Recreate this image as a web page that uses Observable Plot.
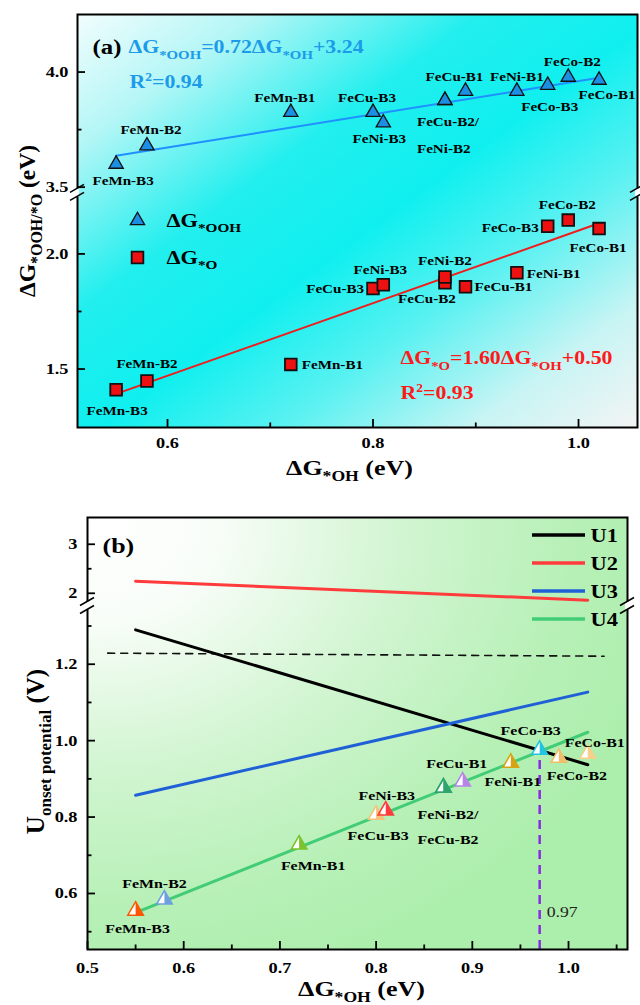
<!DOCTYPE html>
<html>
<head>
<meta charset="utf-8">
<script src="https://cdn.jsdelivr.net/npm/d3@7"></script>
<script src="https://cdn.jsdelivr.net/npm/@observablehq/plot@0.6"></script>
<style>
html,body{margin:0;padding:0;background:#fff;}
#chart svg{display:block;}
</style>
</head>
<body>
<div id="chart"></div>
<script>
// ---------------- data ----------------
const sites   = ["FeMn-B3","FeMn-B2","FeMn-B1","FeCu-B3","FeNi-B3","FeCu-B2","FeNi-B2","FeCu-B1","FeNi-B1","FeCo-B3","FeCo-B2","FeCo-B1"];
const dG_OH   = [0.55, 0.58, 0.72, 0.80, 0.81, 0.87, 0.87, 0.89, 0.94, 0.97, 0.99, 1.02];
const dG_OOH  = [3.600, 3.680, 3.825, 3.825, 3.780, 3.877, 3.877, 3.917, 3.917, 3.943, 3.978, 3.965];
const dG_O    = [1.410, 1.448, 1.520, 1.850, 1.866, 1.875, 1.900, 1.857, 1.918, 2.120, 2.147, 2.110];
const U_onset = [0.555, 0.584, 0.728, 0.806, 0.817, 0.877, 0.877, 0.893, 0.942, 0.976, 0.955, 0.966];

// fitted lines as drawn
const fitX   = [0.55, 1.02];
const fitOOH = [3.636, 3.975];
const fitO   = [1.392, 2.133];
const eqOOH  = "ΔG_{*OOH}=0.72ΔG_{*OH}+3.24";
const r2OOH  = "R^{2}=0.94";
const eqO    = "ΔG_{*O}=1.60ΔG_{*OH}+0.50";
const r2O    = "R^{2}=0.93";

// limiting potential lines (panel b)
const uSeries = ["U1","U2","U3","U4"];
const uX = [0.55, 1.02];
const U1 = [1.290, 0.937];
const U2 = [2.245, 1.860];
const U3 = [0.857, 1.127];
const U4 = [0.550, 1.022];
const limitX = [0.521, 1.037];
const limitU = [1.229, 1.221];
const peakX = [0.97];
const peakU = [0.976];
const peakText = ["0.97"];

// ticks
const tickAx = [0.6, 0.8, 1.0];          const tickAxLabels = ["0.6","0.8","1.0"];  const minorAx = [0.7, 0.9];
const tickAy = [1.5, 2.0, 3.5, 4.0];     const tickAyLabels = ["1.5","2.0","3.5","4.0"]; const minorAy = [1.75, 3.75];
const tickBx = [0.5, 0.6, 0.7, 0.8, 0.9, 1.0]; const tickBxLabels = ["0.5","0.6","0.7","0.8","0.9","1.0"];
const minorBx = [0.55, 0.65, 0.75, 0.85, 0.95, 1.05];
const tickBy = [0.6, 0.8, 1.0, 1.2, 2, 3]; const tickByLabels = ["0.6","0.8","1.0","1.2","2","3"];
const minorBy = [0.5, 0.7, 0.9, 1.1, 1.3, 2.5];

// ---------------- styles / layout ----------------
const SERIF = "'Liberation Serif','Times New Roman',serif";
const C = {tri:"#1b8fe3", triLine:"#1e90ff", blueText:"#1c9be9", sq:"#ee1111", redLine:"#f01c1c", redText:"#ff1a1a"};
const uColors = ["#000000","#ff3b3b","#1f60d6","#42cc76"];
const siteColors = ["#ff5500","#6f9fe0","#7cc22a","#f5c27a","#ff3b3b","#2fae72","#2fa56e","#b784e6","#d4a412","#22c4e0","#eebf6a","#f6cf8a"];

// label offsets [dx, dy, anchor, text, lineHeight]
const layoutOOH = {
  "FeMn-B3":[7,17], "FeMn-B2":[4,-16], "FeMn-B1":[-6,-14], "FeCu-B3":[-6,-14], "FeNi-B3":[-4,16],
  "FeCu-B2":[-28,30.5,"start","FeCu-B2/\nFeNi-B2",2.1], "FeCu-B1":[-11,-14], "FeNi-B1":[0,-14],
  "FeCo-B3":[2,22], "FeCo-B2":[4,-15], "FeCo-B1":[8,15]
};
const layoutO = {
  "FeMn-B3":[1,21], "FeMn-B2":[0,-17], "FeMn-B1":[11,0,"start"], "FeCu-B3":[-9,0,"end"],
  "FeNi-B3":[-3,-15], "FeCu-B2":[-18,16], "FeNi-B2":[0,-16], "FeCu-B1":[9,0,"start"],
  "FeNi-B1":[10,1,"start"], "FeCo-B3":[-9,2,"end"], "FeCo-B2":[-1,-15], "FeCo-B1":[-1,19]
};
const layoutU = {
  "FeMn-B3":[2,18], "FeMn-B2":[-10,-16], "FeMn-B1":[14,21], "FeCu-B3":[2,21], "FeNi-B3":[1,-15],
  "FeNi-B2":[-26,35.5,"start","FeNi-B2/\nFeCu-B2",1.85], "FeCu-B1":[-6,-18], "FeNi-B1":[2,19],
  "FeCo-B3":[-9,-19], "FeCo-B2":[18,18], "FeCo-B1":[7,-11]
};

// broken-axis transforms
function tA(v){ return v > 3 ? v - 3.49 + 2.28 : v; }
function tB(v){ return v > 1.6 ? 1.36 + (v - 1.8) * 0.1283 : v; }

const idx = d3.range(sites.length);
const MID = {lineAnchor: "middle"};

function labelMarks(layout, yOf, fs) {
  return sites.map((name, i) => {
    const L = layout[name]; if (!L) return null;
    const [dx, dy, anchor = "middle", text = name, lh = 1] = L;
    return Plot.text([i], {x: j => dG_OH[j], y: yOf, text: () => text, dx, dy, ...MID,
      textAnchor: anchor, lineHeight: lh, fontSize: fs, fontWeight: "bold", fill: "black"});
  }).filter(Boolean);
}
function note(frameAnchor, dx, dy, text, opts) {
  return Plot.text([0], {frameAnchor, dx, dy, text: () => text, textAnchor: "start", lineAnchor: "middle", fontWeight: "bold", fill: "black", ...opts});
}

// ---------------- panel (a) ----------------
const A = {W:640, H:500, l:77, r:3, t:14, b:73};
A.fw = A.W - A.l - A.r; A.fh = A.H - A.t - A.b;
const xDomA = [0.5124, 1.0574], yDomA = [1.246, 3.04];

const svgA = Plot.plot({
  width: A.W, height: A.H, marginLeft: A.l, marginRight: A.r, marginTop: A.t, marginBottom: A.b,
  x: {domain: xDomA, label: null, axis: null},
  y: {domain: yDomA, label: null, axis: null},
  style: {background: "transparent", fontFamily: SERIF, fontSize: "15px", overflow: "visible"},
  marks: [
    Plot.frame({fill: "url(#gradA)"}),
    Plot.line(fitX, {x: d => d, y: (d, i) => tA(fitOOH[i]), stroke: C.triLine, strokeWidth: 2}),
    Plot.line(fitX, {x: d => d, y: (d, i) => fitO[i], stroke: C.redLine, strokeWidth: 2}),
    Plot.dot(idx, {x: i => dG_OH[i], y: i => tA(dG_OOH[i]), symbol: "triangle", r: 5.3, fill: C.tri, stroke: "#111", strokeWidth: 1.3}),
    Plot.dot(idx, {x: i => dG_OH[i], y: i => dG_O[i], symbol: "square", r: 6.6, fill: C.sq, stroke: "#111", strokeWidth: 1.8}),
    ...labelMarks(layoutOOH, i => tA(dG_OOH[i]), 12.8),
    ...labelMarks(layoutO, i => dG_O[i], 12.8),
    // legend
    Plot.dot([0], {frameAnchor: "top-left", dx: 60, dy: 206, symbol: "triangle", r: 5.3, fill: C.tri, stroke: "#111", strokeWidth: 1.3}),
    Plot.dot([0], {frameAnchor: "top-left", dx: 60, dy: 243, symbol: "square", r: 6.6, fill: C.sq, stroke: "#111", strokeWidth: 1.8}),
    note("top-left", 89, 206, "ΔG_{*OOH}", {fontSize: 19}),
    note("top-left", 89, 243, "ΔG_{*O}", {fontSize: 19}),
    // annotations
    note("top-left", 15, 33, "(a)", {fontSize: 21}),
    note("top-left", 51, 33, eqOOH, {fontSize: 18.5, fill: C.blueText}),
    note("top-left", 52, 68, r2OOH, {fontSize: 18.5, fill: C.blueText}),
    note("top-left", 323, 344, eqO, {fontSize: 18.5, fill: C.redText}),
    note("top-left", 323, 379, r2O, {fontSize: 18.5, fill: C.redText}),
    Plot.frame({stroke: "black", strokeWidth: 2}),
    // ticks (inward)
    Plot.tickX(tickAx, {x: d => d, insetTop: A.fh - 8, stroke: "black", strokeWidth: 1.8}),
    Plot.tickX(minorAx, {x: d => d, insetTop: A.fh - 4.5, stroke: "black", strokeWidth: 1.8}),
    Plot.tickY(tickAy, {y: d => tA(d), insetRight: A.fw - 8, stroke: "black", strokeWidth: 1.8}),
    Plot.tickY(minorAy, {y: d => tA(d), insetRight: A.fw - 4.5, stroke: "black", strokeWidth: 1.8}),
    Plot.text(tickAx, {x: d => d, text: (d, i) => tickAxLabels[i], frameAnchor: "bottom", dy: 16, ...MID, fontSize: 15.5, fontWeight: "bold", fill: "black"}),
    Plot.text(tickAy, {y: d => tA(d), text: (d, i) => tickAyLabels[i], frameAnchor: "left", dx: -9, textAnchor: "end", ...MID, fontSize: 15.5, fontWeight: "bold", fill: "black"}),
    // titles
    Plot.text([0], {frameAnchor: "bottom", dx: -8, dy: 40, text: () => "ΔG_{*OH} (eV)", textAnchor: "middle", ...MID, fontSize: 22, fontWeight: "bold", fill: "black"}),
    Plot.text([0], {frameAnchor: "left", dx: -50, dy: 0, rotate: -90, text: () => "ΔG_{*OOH/*O} (eV)", textAnchor: "middle", ...MID, fontSize: 23.5, fontWeight: "bold", fill: "black"})
  ]
});

// ---------------- panel (b) ----------------
const B = {W:640, H:505, l:87, r:13, t:17, b:56};
B.fw = B.W - B.l - B.r; B.fh = B.H - B.t - B.b;
const xDomB = [0.5, 1.0613], yDomB = [0.4534, 1.584];
const uArrays = [U1, U2, U3, U4];
const sqrt3 = Math.sqrt(3);
const halfTri = {draw(ctx, size) { const y = -Math.sqrt(size / (sqrt3 * 3)); ctx.moveTo(0, 2 * y); ctx.lineTo(-sqrt3 * y, -y); ctx.lineTo(0, -y); ctx.closePath(); }};
const xU = i => dG_OH[i], yU = i => U_onset[i];

const svgB = Plot.plot({
  width: B.W, height: B.H, marginLeft: B.l, marginRight: B.r, marginTop: B.t, marginBottom: B.b,
  x: {domain: xDomB, label: null, axis: null},
  y: {domain: yDomB, label: null, axis: null},
  color: {type: "identity"},
  style: {background: "transparent", fontFamily: SERIF, fontSize: "15px", overflow: "visible"},
  marks: [
    Plot.frame({fill: "url(#gradB)"}),
    Plot.line(limitX, {x: d => d, y: (d, i) => limitU[i], stroke: "#111", strokeWidth: 1.6, strokeDasharray: "7,6"}),
    Plot.ruleX(peakX, {x: d => d, y1: yDomB[0], y2: (d, i) => peakU[i], stroke: "#8a2be2", strokeWidth: 2.5, strokeDasharray: "9,6"}),
    Plot.text(peakX, {x: d => d, text: (d, i) => peakText[i], frameAnchor: "bottom", dx: 7, dy: -37, textAnchor: "start", ...MID, fontSize: 15, fontWeight: "normal", fill: "#222"}),
    ...uArrays.map((arr, k) => Plot.line(uX, {x: d => d, y: (d, i) => tB(arr[i]), stroke: uColors[k], strokeWidth: 3})),
    Plot.dot(idx, {x: xU, y: yU, symbol: "triangle", r: 5.8, fill: "white", stroke: "none"}),
    Plot.dot(idx, {x: xU, y: yU, symbol: halfTri, r: 5.8, fill: i => siteColors[i], stroke: "none"}),
    Plot.dot(idx, {x: xU, y: yU, symbol: "triangle", r: 5.8, fill: "none", stroke: i => siteColors[i], strokeWidth: 1.5}),
    ...labelMarks(layoutU, yU, 13.5),
    note("top-left", 15, 28, "(b)", {fontSize: 22}),
    ...uSeries.map((s, k) => note("top-right", -37, 18 + 28 * k, s, {fontSize: 19})),
    Plot.frame({stroke: "black", strokeWidth: 2}),
    Plot.tickX(tickBx, {x: d => d, insetTop: B.fh - 8, stroke: "black", strokeWidth: 1.8}),
    Plot.tickX(minorBx, {x: d => d, insetTop: B.fh - 4.5, stroke: "black", strokeWidth: 1.8}),
    Plot.tickY(tickBy, {y: d => tB(d), insetRight: B.fw - 8, stroke: "black", strokeWidth: 1.8}),
    Plot.tickY(minorBy, {y: d => tB(d), insetRight: B.fw - 4.5, stroke: "black", strokeWidth: 1.8}),
    Plot.text(tickBx, {x: d => d, text: (d, i) => tickBxLabels[i], frameAnchor: "bottom", dy: 19, ...MID, fontSize: 15.5, fontWeight: "bold", fill: "black"}),
    Plot.text(tickBy, {y: d => tB(d), text: (d, i) => tickByLabels[i], frameAnchor: "left", dx: -10, textAnchor: "end", ...MID, fontSize: 15.5, fontWeight: "bold", fill: "black"}),
    Plot.text([0], {frameAnchor: "bottom", dx: 4, dy: 39, text: () => "ΔG_{*OH} (eV)", textAnchor: "middle", ...MID, fontSize: 22, fontWeight: "bold", fill: "black"}),
    Plot.text([0], {frameAnchor: "left", dx: -52, dy: 18, rotate: -90, text: () => "U_{onset potential} (V)", textAnchor: "middle", ...MID, fontSize: 25, fontWeight: "bold", fill: "black"})
  ]
});

const root = document.getElementById("chart");
root.appendChild(svgA);
root.appendChild(svgB);

// ---------------- post-processing ----------------
const NS = "http://www.w3.org/2000/svg";
function addGradient(svg, id, v, stops) {
  const defs = d3.select(svg).insert("defs", ":first-child");
  const g = defs.append(v.radial ? "radialGradient" : "linearGradient").attr("id", id);
  for (const k in v) if (k !== "radial") g.attr(k, v[k]);
  stops.forEach(([o, c]) => g.append("stop").attr("offset", o).attr("stop-color", c));
}
addGradient(svgA, "gradA", {x1: 0, y1: 0, x2: 1, y2: 1}, [
  [0, "#f2fdfd"], [0.16, "#b4f6f6"], [0.36, "#22eeee"], [0.52, "#10efef"], [0.68, "#5af1f1"], [0.85, "#c8f4f4"], [1, "#f3f4f4"]
]);
addGradient(svgB, "gradB", {radial: true, cx: 0.02, cy: 0.02, r: 1.1, fx: 0.02, fy: 0.02}, [
  [0, "#ffffff"], [0.2, "#f8fdf8"], [0.5, "#d2f5d2"], [0.8, "#b7f0b7"], [1, "#aceeac"]
]);

function drawBreak(svg, P, yLow, yHigh) {
  const sy = svg.scale("y");
  const yb = (sy.apply(yLow) + sy.apply(yHigh)) / 2;
  const g = d3.select(svg).append("g");
  for (const x of [P.l, P.W - P.r]) {
    g.append("rect").attr("x", x - 2).attr("y", yb - 4).attr("width", 4).attr("height", 8).attr("fill", "white");
    for (const o of [-4, 4]) g.append("line").attr("x1", x - 7).attr("y1", yb + o + 4).attr("x2", x + 7).attr("y2", yb + o - 4)
      .attr("stroke", "black").attr("stroke-width", 1.6);
  }
}
drawBreak(svgA, A, 2.25, tA(3.49));
drawBreak(svgB, B, 1.345, tB(1.8));

// legend lines (b)
{
  const g = d3.select(svgB).append("g");
  uSeries.forEach((s, k) => {
    const y = B.t + 18 + 28 * k;
    g.append("line").attr("x1", B.W - B.r - 95).attr("x2", B.W - B.r - 42).attr("y1", y).attr("y2", y)
      .attr("stroke", uColors[k]).attr("stroke-width", 3.5);
  });
}

function stretchText(svg, k) {
  svg.querySelectorAll("text").forEach(el => {
    const tr = el.getAttribute("transform");
    if (tr && /rotate/.test(tr)) return;
    if (tr) el.setAttribute("transform", tr + ` scale(${k},1)`);
    else {
      const x = +el.getAttribute("x") || 0, y = +el.getAttribute("y") || 0;
      el.setAttribute("transform", `translate(${x},${y}) scale(${k},1) translate(${-x},${-y})`);
    }
  });
}
function richify(svg) {
  svg.querySelectorAll("text").forEach(el => {
    if (el.querySelector("tspan")) return;
    const s = el.textContent;
    if (!/[_^]\{/.test(s)) return;
    const fs = parseFloat(getComputedStyle(el).fontSize) || 16;
    el.textContent = "";
    const re = /([_^])\{([^}]*)\}/g;
    let last = 0, m, cur = 0;
    const add = (t, kind) => {
      const ts = document.createElementNS(NS, "tspan");
      const off = kind === "_" ? 0.3 * fs : kind === "^" ? -0.42 * fs : 0;
      if (off - cur !== 0) ts.setAttribute("dy", off - cur);
      if (kind) ts.setAttribute("font-size", (kind === "_" ? 0.68 : 0.62) * fs);
      ts.textContent = t;
      el.appendChild(ts); cur = off;
    };
    while ((m = re.exec(s))) { if (m.index > last) add(s.slice(last, m.index), ""); add(m[2], m[1]); last = re.lastIndex; }
    if (last < s.length) add(s.slice(last), "");
  });
}
[svgA, svgB].forEach(s => { stretchText(s, 1.18); richify(s); });
</script>
</body>
</html>
